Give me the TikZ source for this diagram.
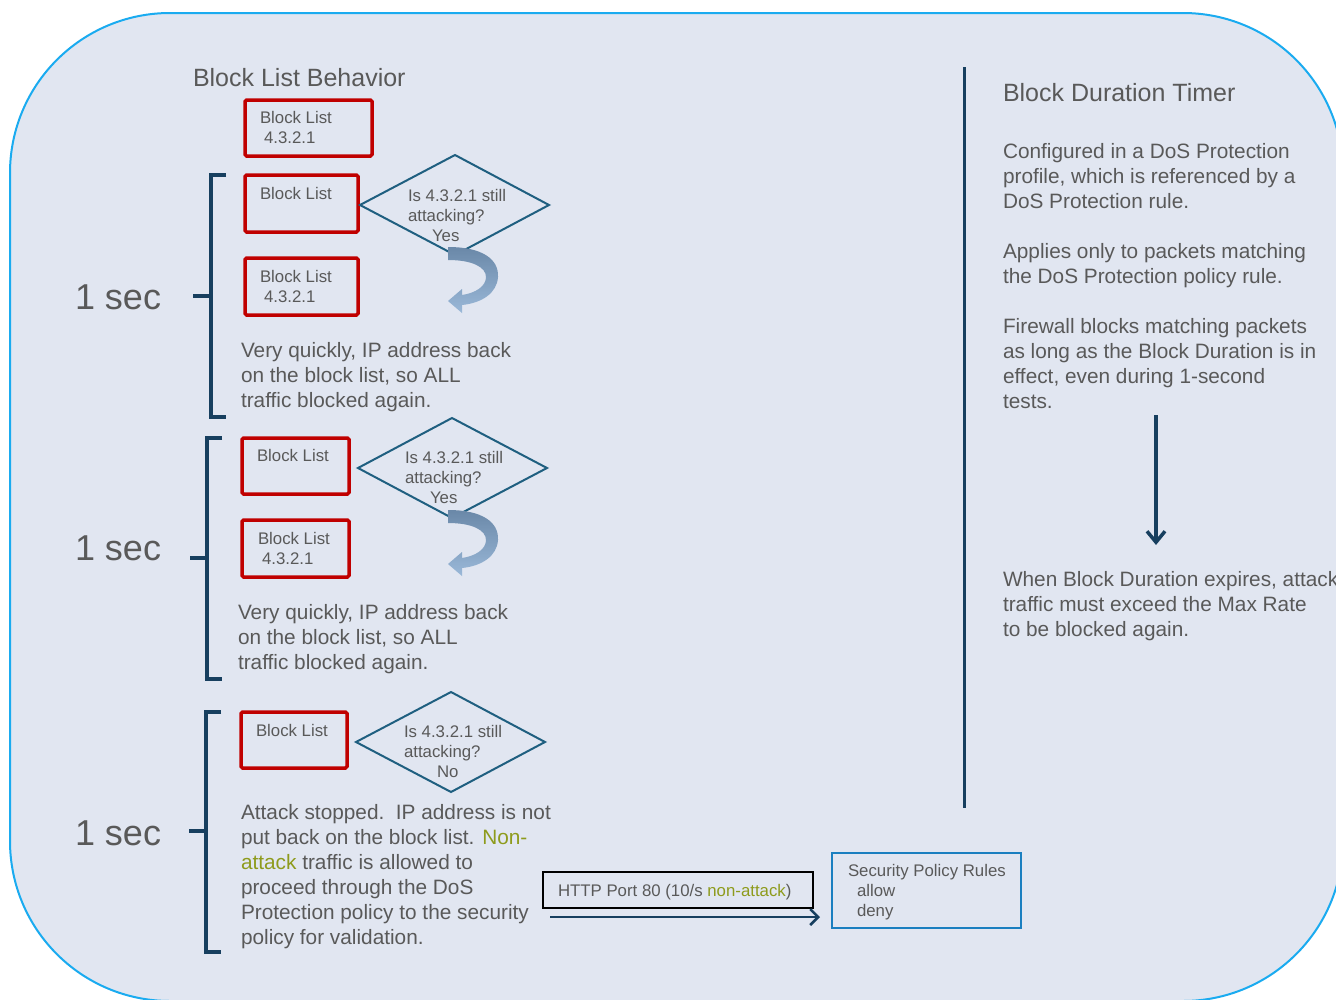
\documentclass[tikz,border=0pt]{standalone}
\usepackage{fontspec}
\setmainfont{Liberation Sans}
\usetikzlibrary{arrows.meta}
\definecolor{bgfill}{HTML}{E1E6F1}
\definecolor{bgline}{HTML}{1AABF0}
\definecolor{txtgray}{HTML}{595959}
\definecolor{blred}{HTML}{C00000}
\definecolor{dteal}{HTML}{1F5F80}
\definecolor{dnavy}{HTML}{173F5F}
\definecolor{olivetxt}{HTML}{8E9B1C}
\definecolor{arrA}{HTML}{6A88A8}
\definecolor{arrB}{HTML}{9AB8D8}
\definecolor{polblue}{HTML}{1A7FC0}
\newcommand\fsBox{\fontsize{16.8}{20}\selectfont}
\newcommand\fsPar{\fontsize{20.8}{25}\selectfont}
\newcommand\fsHead{\fontsize{25}{30}\selectfont}
\newcommand\fsSec{\fontsize{36}{40}\selectfont}
\begin{document}
\begin{tikzpicture}[x=1pt,y=-1pt,
  txt/.style={text=txtgray, inner sep=0pt, outer sep=0pt, anchor=base west, align=left},
  boxtxt/.style={txt, font=\fsBox},
  partxt/.style={txt, font=\fsPar},
  headtxt/.style={txt, font=\fsHead},
  sectxt/.style={txt, font=\fsSec},
  blbox/.style={draw=blred, line width=3.5pt, rounded corners=1.5pt, inner sep=0pt},
  dia/.style={draw=dteal, line width=2pt, line join=miter},
  brk/.style={draw=dnavy, line width=3.5pt},
  curvarr/.style={top color=arrA, bottom color=arrB, draw=none},
  darr/.style={draw=dnavy, line width=3.5pt, -{Straight Barb[length=11pt,width=18pt,line width=3.5pt]}},
  harr/.style={draw=dnavy, line width=2.5pt, -{Straight Barb[length=8pt,width=16pt,line width=2.5pt]}}
]
\clip (0,0) rectangle (1336,999);
\fill[white] (0,0) rectangle (1336,999);
\draw[fill=bgfill, draw=bgline, line width=2pt, rounded corners=160pt] (10,13) rectangle (1343,1001);

% title (multi-line nodes are placed by the baseline of their last line)
\node[headtxt] (title) at (193,86) {Block List Behavior};

% block list boxes
\node[blbox, minimum width=127pt, minimum height=56pt] (bx1) at (308.5,128) {};
\node[boxtxt] (bt1) at (260,143) {Block List\\\hspace*{4pt}4.3.2.1};
\node[blbox, minimum width=113pt, minimum height=57pt] (bx2) at (301.5,203.5) {};
\node[boxtxt] (bt2) at (260,199) {Block List};
\node[blbox, minimum width=113pt, minimum height=57pt] (bx3) at (301.5,286.5) {};
\node[boxtxt] (bt3) at (260,302) {Block List\\\hspace*{4pt}4.3.2.1};
\node[blbox, minimum width=107pt, minimum height=56pt] (bx4) at (295.5,466) {};
\node[boxtxt] (bt4) at (257,461) {Block List};
\node[blbox, minimum width=107pt, minimum height=57pt] (bx5) at (295.5,548.5) {};
\node[boxtxt] (bt5) at (258,564) {Block List\\\hspace*{4pt}4.3.2.1};
\node[blbox, minimum width=106pt, minimum height=56pt] (bx6) at (294,740) {};
\node[boxtxt] (bt6) at (256,736) {Block List};

% diamonds
\draw[dia] (360,205) -- (455,155) -- (549,205) -- (455,255) -- cycle;
\node[boxtxt] (dt1) at (408,241) {Is 4.3.2.1 still\\attacking?\\\hspace*{24pt}Yes};
\draw[dia] (358,468) -- (452,418) -- (547,468) -- (452,518) -- cycle;
\node[boxtxt] (dt2) at (405,503) {Is 4.3.2.1 still\\attacking?\\\hspace*{25pt}Yes};
\draw[dia] (356,742) -- (451,692) -- (545,742) -- (451,792) -- cycle;
\node[boxtxt] (dt3) at (404,777) {Is 4.3.2.1 still\\attacking?\\\hspace*{33pt}No};

% curved arrows
\foreach \dy in {-263,0}{
\begin{scope}[shift={(2,\dy)}]
\shade[curvarr] (446,510) .. controls (480,510) and (497,522) .. (496,540)
  .. controls (495,556) and (480,566) .. (460,568) -- (460,576) -- (446,564) -- (460,552) -- (460,558)
  .. controls (474,556) and (484,549) .. (484,540) .. controls (484,530) and (470,523) .. (446,523) -- cycle;
\end{scope}}

% brackets
\draw[brk] (226,175) -- (211,175) -- (211,417) -- (226,417);
\draw[brk] (193,296) -- (211,296);
\draw[brk] (222,438) -- (207,438) -- (207,679) -- (222,679);
\draw[brk] (190,558) -- (207,558);
\draw[brk] (221,712) -- (206,712) -- (206,952) -- (221,952);
\draw[brk] (189,831) -- (206,831);

\node[sectxt] (s1) at (75,309) {1 sec};
\node[sectxt] (s2) at (75,560) {1 sec};
\node[sectxt] (s3) at (75,845) {1 sec};

% paragraphs left
\node[partxt] (p1) at (241,407) {Very quickly, IP address back\\on the block list, so ALL\\traffic blocked again.};
\node[partxt] (p2) at (238,669) {Very quickly, IP address back\\on the block list, so ALL\\traffic blocked again.};
\node[partxt] (p3) at (241,944) {Attack stopped.\ \ IP address is not\\put back on the block list. \textcolor{olivetxt}{Non-}\\\textcolor{olivetxt}{attack} traffic is allowed to\\proceed through the DoS\\Protection policy to the security\\policy for validation.};

% HTTP box and security box
\node[draw=black, line width=2pt, minimum width=270pt, minimum height=36pt, inner sep=0pt] (http) at (678,890) {};
\node[boxtxt] (httpt) at (558,896) {HTTP Port 80 (10/s \textcolor{olivetxt}{non-attack})};
\node[draw=polblue, line width=2pt, minimum width=189pt, minimum height=75pt, inner sep=0pt] (sec) at (926.5,890.5) {};
\node[boxtxt] (sect) at (848,916) {Security Policy Rules\\\hspace*{9pt}allow\\\hspace*{9pt}deny};
\coordinate (ha) at (550,917);
\coordinate (hb) at (820,917);
\draw[harr] (ha) -- (hb);

% right side
\coordinate (vt) at (964,67);
\coordinate (vb) at (964,808);
\draw[brk, line width=3pt] (vt) -- (vb);
\node[headtxt] (rtitle) at (1003,101) {Block Duration Timer};
\node[partxt] (r1) at (1003,208) {Configured in a DoS Protection\\profile, which is referenced by a\\DoS Protection rule.};
\node[partxt] (r2) at (1003,283) {Applies only to packets matching\\the DoS Protection policy rule.};
\node[partxt] (r3) at (1003,408) {Firewall blocks matching packets\\as long as the Block Duration is in\\effect, even during 1-second\\tests.};
\coordinate (da) at (1156,415);
\coordinate (db) at (1156,545);
\draw[darr] (da) -- (db);
\node[partxt] (r4) at (1003,636) {When Block Duration expires, attack\\traffic must exceed the Max Rate\\to be blocked again.};
\end{tikzpicture}
\end{document}
